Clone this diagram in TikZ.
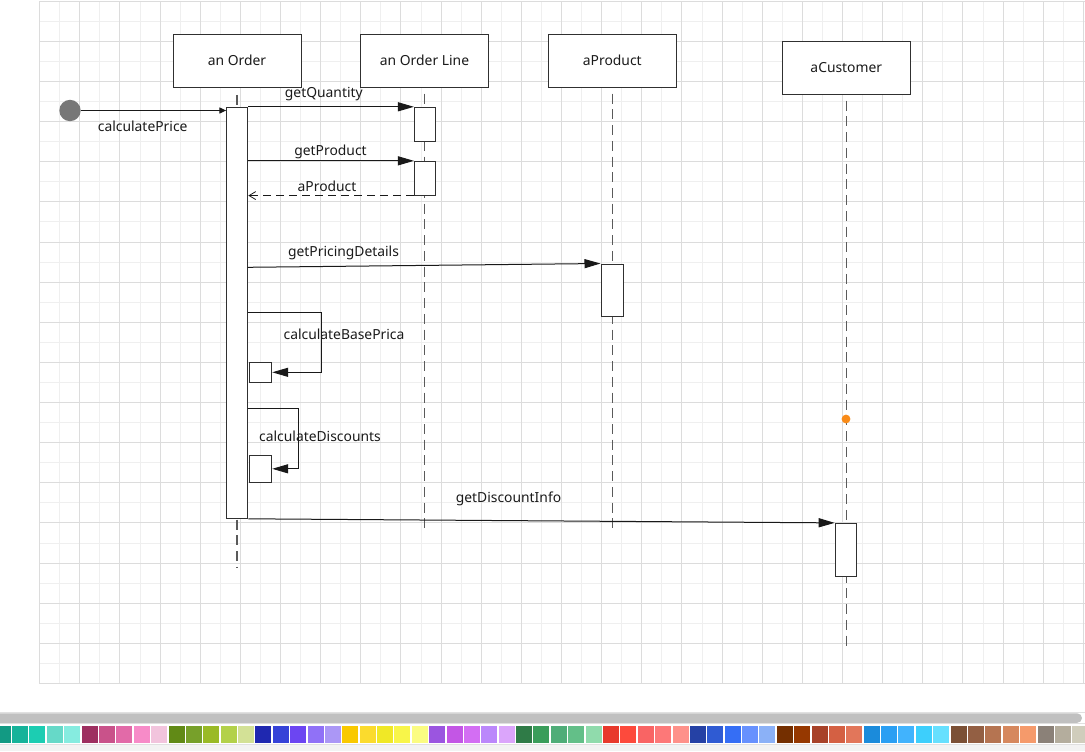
\documentclass[tikz,border=0pt]{standalone}
\usepackage{fontspec}
\setmainfont{Noto Sans}
\usetikzlibrary{arrows.meta}
\definecolor{gridminor}{HTML}{EFEFEF}
\definecolor{gridmajor}{HTML}{DCDCDC}
\definecolor{boxline}{HTML}{303030}
\definecolor{txt}{HTML}{1A1A1A}
\definecolor{lifegray}{HTML}{5A5A5A}
\definecolor{startgray}{HTML}{777777}
\definecolor{dotorange}{HTML}{F98B18}
\definecolor{sbar}{HTML}{C0C0C0}
\definecolor{uiline}{HTML}{E0E0E0}
\definecolor{uibg}{HTML}{F3F3F3}
\tikzset{
  objbox/.style={draw=boxline, fill=white, line width=0.75pt, minimum width=96pt, minimum height=39.75pt, inner sep=0pt, text=txt, font=\fontsize{10.4}{12}\selectfont},
  actbox/.style={draw=boxline, fill=white, line width=0.75pt, minimum width=15.9pt, inner sep=0pt},
  lifeline/.style={draw=lifegray, line width=0.9pt, dash pattern=on 7.5pt off 4.3pt},
  msg/.style={draw=black!90, line width=0.75pt, -{Triangle[length=12pt,width=6.8pt]}},
  smallmsg/.style={draw=black!90, line width=0.75pt, -{Triangle[length=5pt,width=4.5pt]}},
  retmsg/.style={draw=black!90, line width=0.75pt, dash pattern=on 6pt off 3.75pt, -{Straight Barb[length=5pt,width=6pt,line width=0.6pt]}},
  lbl/.style={text=txt, inner sep=0pt, font=\fontsize{10.4}{12}\selectfont},
}
\begin{document}
\begin{tikzpicture}[x=0.75pt,y=-0.75pt]
\useasboundingbox (0,0) rectangle (1085,751);
\clip (0,0) rectangle (1085,751);
\fill[white] (0,0) rectangle (1085,751);
% grid
\foreach \i in {0,...,52} {
  \draw[gridminor, line width=0.75pt] ({39.7+20.07*\i},1.16) -- ({39.7+20.07*\i},683.5);
}
\foreach \j in {0,...,34} {
  \draw[gridminor, line width=0.75pt] (39.7,{1.16+20.07*\j}) -- (1085,{1.16+20.07*\j});
}
\foreach \i in {0,...,26} {
  \draw[gridmajor, line width=0.75pt] ({39.7+40.14*\i},1.16) -- ({39.7+40.14*\i},683.5);
}
\foreach \j in {0,...,17} {
  \draw[gridmajor, line width=0.75pt] (39.7,{1.16+40.14*\j}) -- (1085,{1.16+40.14*\j});
}
% bottom UI
\draw[uiline, line width=0.75pt] (0,712.6) -- (1085,712.6);
\fill[sbar, rounded corners=3.6pt] (-10,713.3) rectangle (1082,722.8);
\draw[uiline, line width=0.75pt] (0,723.9) -- (1085,723.9);
\fill[uibg] (0,745) rectangle (1085,751);
\draw[uiline, line width=0.75pt] (0,744.9) -- (1085,744.9);
\foreach \c [count=\i from 0] in {129A83,16B39A,1CCDB2,66D9C8,86ECE0,9E2F60,C9528A,E26AA8,F78BC8,F2C4DD,618A16,77A02A,9ABA26,B3D14A,D3E196,1F28B0,3542D8,6C45F2,9071F7,AB97F6,F9C900,FBDB2D,F0E826,F8F549,FBFC82,9B55E0,C356E5,D36EF3,BB87FB,DBA5FB,2F7B47,3A9D5A,4FAD78,63BF88,90DBAC,E8392C,FD4A3C,F96464,FD7878,FE918A,2541A5,2F5BD3,356EF5,6791FE,8BB1F7,742F00,963800,A84229,D46043,E2765A,1B8BDB,2A9FF3,41B3FD,3DCFFC,66E0FE,7B5035,935F43,B57451,D6885E,F59A6B,8B8178,B4AD9D,D0CDBC} {
  \definecolor{swc}{HTML}{\c}
  \fill[swc] ({-5.3+17.38*\i},726) rectangle ++(16,17);
}
% object boxes
\node[objbox] (order) at (237,60.6) {an Order};
\node[objbox] (oline) at (424.5,60.6) {an Order Line};
\node[objbox] (prod) at (612.3,60.6) {aProduct};
\node[objbox] (cust) at (846.3,67.7) {aCustomer};
% lifeline ends
\coordinate (orderEnd) at (237,567);
\coordinate (olineEnd) at (424.5,533);
\coordinate (prodEnd) at (612.3,533);
\coordinate (custEnd) at (846.3,648);
\draw[lifeline] ([yshift=-5.5pt]order.south) -- (orderEnd);
\draw[lifeline] ([yshift=-4.5pt]oline.south) -- (olineEnd);
\draw[lifeline] ([yshift=-4.5pt]prod.south) -- (prodEnd);
\draw[lifeline] ([yshift=-4.5pt]cust.south) -- (custEnd);
% activations
\node[actbox, minimum height=308.25pt] (act) at (237.2,312.8) {};
\node[actbox, minimum height=25.5pt] (olb1) at (425,124.3) {};
\node[actbox, minimum height=25.3pt] (olb2) at (425,178.2) {};
\node[actbox, minimum width=16.5pt, minimum height=39pt] (pact) at (612,290) {};
\node[actbox, minimum height=39.5pt] (cact) at (845.8,549.7) {};
\node[actbox, minimum width=16.8pt, minimum height=15pt] (sb1) at (260.5,372.3) {};
\node[actbox, minimum width=16.8pt, minimum height=20.25pt] (sb2) at (260.5,468.8) {};
% orange dot
\fill[dotorange] (846,419) circle[radius=3.3pt];
% start
\node[circle, fill=startgray, minimum size=16pt, inner sep=0pt] (start) at (70,110.5) {};
% messages
\draw[smallmsg] (start.east) -- (act.west |- start.east);
\draw[msg] (act.north east) -- (olb1.north west);
\draw[msg] (olb2.north west -| act.east) -- (olb2.north west);
\draw[retmsg] (olb2.south west) -- (olb2.south west -| act.east);
\coordinate (gpdStart) at (247.7,267.3);
\draw[msg] (gpdStart) -- (pact.north west);
\coordinate (s1a) at (247.7,312.3);
\coordinate (s1b) at (321.3,312.3);
\coordinate (s1c) at (321.3,372.3);
\draw[msg] (s1a) -- (s1b) -- (s1c) -- (sb1.east);
\coordinate (s2a) at (247.7,408.3);
\coordinate (s2b) at (298.3,408.3);
\coordinate (s2c) at (298.3,468.8);
\draw[msg] (s2a) -- (s2b) -- (s2c) -- (sb2.east);
\draw[msg] (act.south east) -- (cact.north west);
% labels
\node[lbl] (lcp) at (142.7,126) {calculatePrice};
\node[lbl] (lgq) at (323.8,94.5) {getQuantity};
\node[lbl] (lgp) at (330.5,152) {getProduct};
\node[lbl] (lap) at (327,186) {aProduct};
\node[lbl] (lgpd) at (343.5,253) {getPricingDetails};
\node[lbl] (lcbp) at (344,334.3) {calculateBasePrica};
\node[lbl] (lcd) at (320,436.5) {calculateDiscounts};
\node[lbl] (lgdi) at (508.5,498.5) {getDiscountInfo};
\end{tikzpicture}
\end{document}
